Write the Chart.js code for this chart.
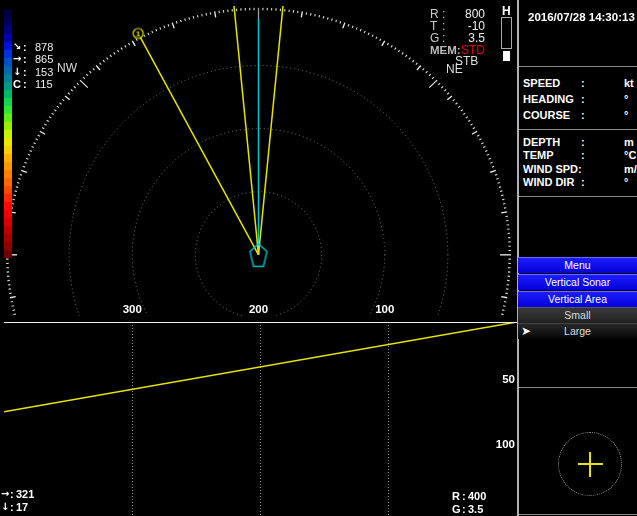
<!DOCTYPE html>
<html>
<head>
<meta charset="utf-8">
<script src="https://cdn.jsdelivr.net/npm/chart.js@4.4.0/dist/chart.umd.min.js"></script>
<style>
html, body { margin: 0; padding: 0; background: #000; }
#wrap { position: relative; width: 637px; height: 516px; overflow: hidden; background: #000;
        font-family: "Liberation Sans", Arial, sans-serif; color: #fff; }
canvas { position: absolute; left: 0; }
#sonar { top: 0; }
#depth { top: 322px; }
.txt { position: absolute; white-space: nowrap; line-height: 14px; }
.ln { position: absolute; }
.btn { position: absolute; left: 518px; width: 119px; height: 16px; line-height: 16px;
       text-align: center; font-size: 10.5px; color: #fff; }
.blue { background: linear-gradient(#2020ff, #0000d8); box-shadow: inset 0 1px 0 #6a6aff; }
.dark { background: linear-gradient(#3a3a3a, #222); color: #ddd; box-shadow: inset 0 1px 0 #555; }
.black { background: linear-gradient(#2a2a2a, #050505); color: #ddd; box-shadow: inset 0 1px 0 #444; }
</style>
</head>
<body>
<div id="wrap">
  <canvas id="sonar" width="517" height="322"></canvas>
  <canvas id="depth" width="517" height="194"></canvas>
</div>
<script>
// ---------- DATA ----------
const rangeTicks = [300, 200, 100];     // range labels along the ship line
const ringRanges = [50, 100, 150];      // dotted range rings
const bearingRingRange = 200;           // outer bearing scale
const fanBearings = [-5.5, 5.5];        // beam edges (deg)
const fanRange = 215;
const headingBearing = 0;
const headingRange = 191;
const targetBearing = -28;
const targetRange = 203;

const depthTicks = [50, 100];
const depthLineX = [400, 0];
const depthLineY = [69, 0];

const leftInfo = [["\u2198", "878"], ["\u2192", "865"], ["\u2193", "153"], ["C", "115"]];
const rightInfo = [["R", "800"], ["T", "-10"], ["G", "3.5"]];
const bottomLeftInfo = [["\u2192", "321"], ["\u2193", "17"]];
const bottomRightInfo = [["R", "400"], ["G", "3.5"]];
const navLabels = [["SPEED", "kt"], ["HEADING", "\u00b0"], ["COURSE", "\u00b0"]];
const envLabels = [["DEPTH", "m"], ["TEMP", "\u00b0C"], ["WIND SPD", "m/s"], ["WIND DIR", "\u00b0"]];
const menuButtons = ["Menu", "Vertical Sonar", "Vertical Area", "Small", "Large"];
const timestamp = "2016/07/28 14:30:13";

const colorSteps = ["#000040", "#00005a", "#000080", "#0000b0", "#0010d8", "#0030e0", "#0050c8",
  "#0068b0", "#008098", "#009880", "#00b868", "#10d850", "#30e830", "#60f010", "#98f000",
  "#c8f000", "#e8e800", "#f8d000", "#ffb000", "#ff9800", "#ff8000", "#ff6800", "#ff4800",
  "#ff2800", "#ff0800", "#f00000", "#d80000", "#c00000", "#a80000", "#900000", "#700000"];

const YELLOW = "#e4e400";
const CYAN = "#00c4cc";
const FONT = '"Liberation Sans", Arial, sans-serif';
const ARROW_FONT = '"DejaVu Sans", sans-serif';
Chart.defaults.font.family = FONT;

const wrap = document.getElementById("wrap");

// ---------- HTML HELPERS ----------
function addText(txt, x, y, o = {}) {
    const d = document.createElement("div");
    d.className = "txt";
    d.textContent = txt;
    d.style.left = x + "px";
    d.style.top = (y - 7) + "px";
    if (o.align === "right") d.style.transform = "translateX(-100%)";
    if (o.align === "center") d.style.transform = "translateX(-50%)";
    d.style.font = (o.bold ? "bold " : "") + (o.size || 11) + "px " + (o.family || FONT);
    d.style.lineHeight = "14px";
    d.style.color = o.color || "#fff";
    wrap.appendChild(d);
    return d;
}
function addLine(x, y, w, h, color) {
    const d = document.createElement("div");
    d.className = "ln";
    d.style.cssText += `left:${x}px;top:${y}px;width:${w}px;height:${h}px;background:${color};`;
    wrap.appendChild(d);
    return d;
}
function addSymbol(sym, x, y, size) {
    // arrows need a font that has them; letters stay in the normal face
    const isArrow = /[\u2190-\u21ff]/.test(sym);
    return addText(sym, x, y, { size: isArrow ? size - 1 : size, bold: true, family: isArrow ? ARROW_FONT : FONT });
}

// ---------- POLAR HELPERS ----------
const shipCenter = { x: 200, y: 0 };
function polarPoint(bearing, range) {
    const a = bearing * Math.PI / 180;
    return { x: shipCenter.x - range * Math.sin(a), y: range * Math.cos(a) };
}

// ship icon (pentagon) and target marker as point images
const shipImg = document.createElement("canvas");
shipImg.width = 22; shipImg.height = 28;
(function () {
    const c = shipImg.getContext("2d");
    c.strokeStyle = CYAN; c.lineWidth = 1.4;
    c.beginPath();
    c.moveTo(11, 3); c.lineTo(19.5, 10.5); c.lineTo(16, 25.5); c.lineTo(6, 25.5); c.lineTo(2.5, 10.5);
    c.closePath(); c.stroke();
})();
const markerImg = document.createElement("canvas");
markerImg.width = 14; markerImg.height = 14;
(function () {
    const c = markerImg.getContext("2d");
    c.fillStyle = "#000"; c.strokeStyle = YELLOW; c.lineWidth = 1.2;
    c.beginPath(); c.arc(7, 7, 5, 0, Math.PI * 2); c.fill(); c.stroke();
    c.fillStyle = YELLOW; c.font = "bold 8px " + FONT;
    c.textAlign = "center"; c.textBaseline = "middle";
    c.fillText("1", 7, 7.5);
})();

// ---------- SONAR GRID PLUGIN ----------
const sonarGrid = {
    id: "sonarGrid",
    beforeDatasetsDraw(chart) {
        const { ctx, chartArea } = chart;
        const xs = chart.scales.x, ys = chart.scales.y;
        const toPx = p => ({ x: xs.getPixelForValue(p.x), y: ys.getPixelForValue(p.y) });
        const c = toPx(shipCenter);
        const unit = Math.abs(xs.getPixelForValue(100) - xs.getPixelForValue(0)) / 100;
        ctx.save();
        ctx.beginPath();
        ctx.rect(chartArea.left, chartArea.top, chartArea.right - chartArea.left, chartArea.bottom - chartArea.top);
        ctx.clip();
        // range rings
        ctx.strokeStyle = "#7a7a7a";
        ctx.lineWidth = 1;
        ctx.setLineDash([1, 3]);
        ringRanges.forEach(r => {
            ctx.beginPath();
            ctx.arc(c.x, c.y, r * unit, 0, Math.PI * 2);
            ctx.stroke();
        });
        ctx.setLineDash([]);
        // bearing scale
        for (let deg = 0; deg < 360; deg++) {
            let len = 2.5, col = "#d8d8d8";
            if (deg === 0) { len = 13; col = "#a0a0a0"; }
            else if (deg % 45 === 0) { len = 11; col = "#f0f0f0"; }
            else if (deg % 10 === 0) { len = 6; col = "#f0f0f0"; }
            const o = toPx(polarPoint(deg, bearingRingRange));
            const i = toPx(polarPoint(deg, bearingRingRange - len / unit));
            ctx.strokeStyle = col;
            ctx.lineWidth = deg % 10 === 0 ? 1.3 : 1.1;
            ctx.beginPath(); ctx.moveTo(o.x, o.y); ctx.lineTo(i.x, i.y); ctx.stroke();
        }
        ctx.restore();
    },
    afterDraw(chart) {
        const { ctx, chartArea } = chart;
        const xs = chart.scales.x;
        ctx.save();
        ctx.fillStyle = "#fff";
        ctx.font = "bold 11.5px " + FONT;
        ctx.textAlign = "center";
        ctx.textBaseline = "middle";
        rangeTicks.forEach(v => ctx.fillText(String(v), xs.getPixelForValue(v), chartArea.bottom - 6));
        ctx.restore();
    }
};

// ---------- TOP SONAR CHART ----------
const lineSet = (pts, color) => ({
    data: pts, showLine: true, borderColor: color, borderWidth: 1.5, pointRadius: 0, fill: false
});
new Chart(document.getElementById("sonar"), {
    type: "scatter",
    data: {
        datasets: [
            { data: [shipCenter], pointStyle: shipImg, pointRadius: 5, showLine: false },
            { data: [polarPoint(targetBearing, targetRange)], pointStyle: markerImg, pointRadius: 5, showLine: false },
            lineSet([shipCenter, polarPoint(targetBearing, targetRange)], YELLOW),
            lineSet([shipCenter, polarPoint(fanBearings[0], fanRange)], YELLOW),
            lineSet([shipCenter, polarPoint(fanBearings[1], fanRange)], YELLOW),
            lineSet([shipCenter, polarPoint(headingBearing, headingRange)], CYAN)
        ]
    },
    options: {
        responsive: false,
        animation: false,
        events: [],
        layout: { padding: { left: 4, right: 0, top: 0, bottom: 0 } },
        plugins: { legend: { display: false }, tooltip: { enabled: false } },
        scales: {
            x: { type: "linear", min: 0, max: 400, reverse: true, display: false },
            y: { type: "linear", min: -49.5, max: 201.4, display: false }
        }
    },
    plugins: [sonarGrid]
});

// ---------- BOTTOM DEPTH CHART ----------
const depthLabels = {
    id: "depthLabels",
    afterDraw(chart) {
        const { ctx, chartArea } = chart;
        const ys = chart.scales.y;
        ctx.save();
        ctx.fillStyle = "#fff";
        ctx.font = "bold 11.5px " + FONT;
        ctx.textAlign = "right";
        ctx.textBaseline = "middle";
        depthTicks.forEach(v => ctx.fillText(String(v), chartArea.right - 2, ys.getPixelForValue(v) - 7));
        ctx.restore();
    }
};
new Chart(document.getElementById("depth"), {
    type: "scatter",
    data: {
        datasets: [lineSet(depthLineX.map((x, i) => ({ x, y: depthLineY[i] })), YELLOW)]
    },
    options: {
        responsive: false,
        animation: false,
        events: [],
        layout: { padding: { left: 4, right: 0, top: 0, bottom: 0 } },
        plugins: { legend: { display: false }, tooltip: { enabled: false } },
        scales: {
            x: {
                type: "linear", min: 0, max: 400, reverse: true,
                ticks: { display: false, stepSize: 100 },
                grid: { drawTicks: false, color: c => rangeTicks.includes(c.tick && c.tick.value) ? "#9a9a9a" : "rgba(0,0,0,0)" },
                border: { display: false, dash: [1, 2] }
            },
            y: {
                type: "linear", min: 0, max: 149.2, reverse: true,
                ticks: { display: false, stepSize: 50 },
                grid: { drawTicks: false, color: c => depthTicks.includes(c.tick && c.tick.value) ? "#9a9a9a" : "rgba(0,0,0,0)" },
                border: { display: false, dash: [1, 2] }
            }
        }
    },
    plugins: [depthLabels]
});

// ---------- COLOR BAR ----------
colorSteps.forEach((col, i) => addLine(4, 10 + i * 8, 8, 8, col));

// ---------- OVERLAY TEXT ----------
leftInfo.forEach((r, i) => {
    const y = 47 + i * 12.4;
    addSymbol(r[0], 13, y, 11);
    addText(":", 23, y, { size: 11, bold: true });
    addText(r[1], 35, y, { size: 11, color: "#eee" });
});
addText("NW", 57, 68, { size: 12, color: "#ddd" });
addText("NE", 446, 69, { size: 12, color: "#ddd" });
addText("STB", 455, 61, { size: 12, color: "#ddd" });

rightInfo.forEach((r, i) => {
    const y = 14 + i * 12;
    addText(r[0], 430, y, { size: 12, color: "#ccc" });
    addText(":", 442, y, { size: 12, color: "#ccc" });
    addText(r[1], 485, y, { size: 12, color: "#eee", align: "right" });
});
addText("MEM:", 430, 50, { size: 11.5, bold: true, color: "#bbb" });
addText("STD", 485, 50, { size: 12, color: "#e00000", align: "right" });

addText("H", 502, 11, { size: 12, bold: true });
const hBox = addLine(501, 17, 11, 32, "transparent");
hBox.style.boxSizing = "border-box";
hBox.style.border = "1px solid #aaa";
addLine(503, 51, 7, 10, "#fff");

bottomLeftInfo.forEach((r, i) => {
    const y = 494 + i * 12.5;
    addSymbol(r[0], 1, y, 11);
    addText(":", 10, y, { size: 11, bold: true });
    addText(r[1], 16, y, { size: 11, bold: true });
});
bottomRightInfo.forEach((r, i) => {
    const y = 496 + i * 13;
    addText(r[0], 452, y, { size: 11, bold: true });
    addText(":", 462, y, { size: 11, bold: true });
    addText(r[1], 468, y, { size: 11, bold: true });
});

// ---------- FRAME LINES ----------
addLine(4, 322, 513, 1, "#f0f0f0");
addLine(517, 0, 2, 516, "#b0b0b0");
[66, 129, 196].forEach(y => addLine(519, y, 118, 1, "#8a8a8a"));
addLine(519, 387, 118, 1, "#8a8a8a");
addLine(519, 514, 118, 1, "#8a8a8a");

// ---------- RIGHT PANEL ----------
addText(timestamp, 528, 17, { size: 11.5, bold: true });
navLabels.forEach((r, i) => {
    const y = 83 + i * 16;
    addText(r[0], 523, y, { size: 11, bold: true });
    addText(":", 581, y, { size: 11, bold: true });
    addText(r[1], 624, y, { size: 11, bold: true });
});
envLabels.forEach((r, i) => {
    const y = 142 + i * 13.4;
    addText(r[0], 523, y, { size: 11, bold: true });
    addText(":", r[0] === "WIND SPD" ? 578 : 581, y, { size: 11, bold: true });
    addText(r[1], 624, y, { size: 11, bold: true });
});

const btnTops = [257, 274, 291, 307, 323];
const btnClass = ["blue", "blue", "blue", "dark", "black"];
menuButtons.forEach((label, i) => {
    const b = document.createElement("div");
    b.className = "btn " + btnClass[i];
    b.style.top = btnTops[i] + "px";
    b.textContent = label;
    wrap.appendChild(b);
});
addText("\u27a4", 521, 331, { size: 12, color: "#fff", family: ARROW_FONT });

// target scope
const scope = addLine(558, 432, 64, 64, "transparent");
scope.style.boxSizing = "border-box";
scope.style.border = "1px dotted #9a9a9a";
scope.style.borderRadius = "50%";
addLine(578, 463, 25, 2, YELLOW);
addLine(589, 452, 2, 25, YELLOW);
</script>
</body>
</html>
